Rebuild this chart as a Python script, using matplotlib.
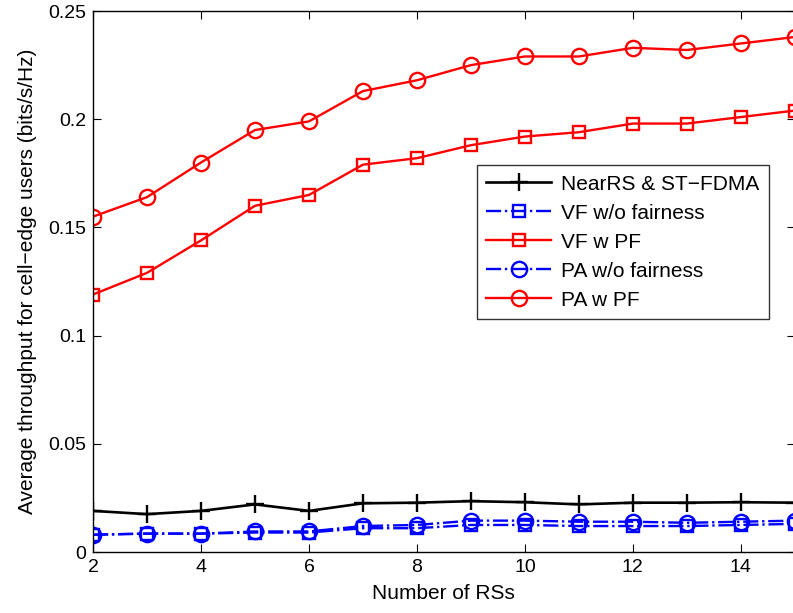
import matplotlib
matplotlib.use("Agg")
import matplotlib.pyplot as plt

plt.rcParams['font.family'] = ['Liberation Sans', 'DejaVu Sans']

numRS = [2, 3, 4, 5, 6, 7, 8, 9, 10, 11, 12, 13, 14, 15]

nearRS = [0.019, 0.0175, 0.019, 0.022, 0.019, 0.0225, 0.0228, 0.0235, 0.023,
          0.022, 0.0228, 0.0228, 0.023, 0.0228]
vfNoFair = [0.008, 0.0085, 0.0085, 0.009, 0.009, 0.011, 0.011, 0.0125, 0.0125,
            0.012, 0.012, 0.012, 0.0125, 0.013]
vfPF = [0.119, 0.129, 0.144, 0.160, 0.165, 0.179, 0.182, 0.188, 0.192,
        0.194, 0.198, 0.198, 0.201, 0.204]
paNoFair = [0.008, 0.0085, 0.0085, 0.0095, 0.0095, 0.012, 0.0125, 0.0145, 0.0145,
            0.014, 0.014, 0.0135, 0.014, 0.0145]
paPF = [0.155, 0.164, 0.180, 0.195, 0.199, 0.213, 0.218, 0.225, 0.229,
        0.229, 0.233, 0.232, 0.235, 0.238]

labels = ["NearRS & ST\u2212FDMA", "VF w/o fairness", "VF w PF",
          "PA w/o fairness", "PA w PF"]

fig = plt.figure(figsize=(7.93, 6.13), dpi=100)
ax = fig.add_axes([0.1173, 0.0995, 0.885, 0.8825])

lw = 1.7
ax.plot(numRS, nearRS, color='black', marker='+', ms=13, mew=1.7, lw=1.9, label=labels[0])
ax.plot(numRS, vfNoFair, color='blue', marker='s', ms=9, mew=lw, mfc='none', lw=lw,
        ls='-.', label=labels[1])
ax.plot(numRS, vfPF, color='red', marker='s', ms=9, mew=lw, mfc='none', lw=lw, label=labels[2])
ax.plot(numRS, paNoFair, color='blue', marker='o', ms=11, mew=lw, mfc='none', lw=lw,
        ls='-.', label=labels[3])
ax.plot(numRS, paPF, color='red', marker='o', ms=11, mew=lw, mfc='none', lw=lw, label=labels[4])

ax.set_xlim(2, 15)
ax.set_ylim(0, 0.25)
ax.set_xticks([2, 4, 6, 8, 10, 12, 14])
ax.set_yticks([0, 0.05, 0.1, 0.15, 0.2, 0.25])
ax.set_yticklabels(['0', '0.05', '0.1', '0.15', '0.2', '0.25'])
ax.tick_params(direction='in', labelsize=14, top=True, right=True, length=6, pad=5)
for s in ax.spines.values():
    s.set_linewidth(1.0)

ax.set_xlabel("Number of RSs", fontsize=15, labelpad=6)
ax.set_ylabel("Average throughput for cell\u2212edge users (bits/s/Hz)", fontsize=15, labelpad=8)

leg = ax.legend(loc='upper left', bbox_to_anchor=(0.547, 0.715), fontsize=15,
                frameon=True, fancybox=False, edgecolor='black', handlelength=3.1,
                borderpad=0.45, labelspacing=0.48, handletextpad=0.5, borderaxespad=0)
leg.get_frame().set_linewidth(1.0)

fig.savefig("out.png", dpi=100)
